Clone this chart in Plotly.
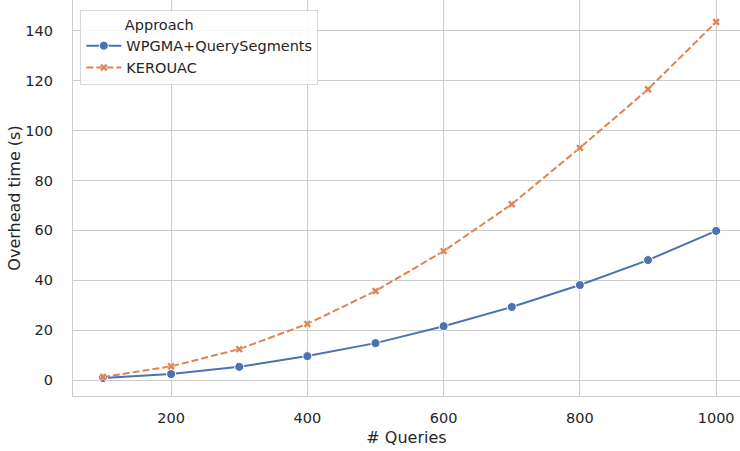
import plotly.graph_objects as go

queries = [100, 200, 300, 400, 500, 600, 700, 800, 900, 1000]
wpgma = [0.8, 2.4, 5.3, 9.6, 14.8, 21.6, 29.3, 38.1, 48.1, 59.8]
kerouac = [1.2, 5.5, 12.4, 22.5, 35.7, 51.7, 70.5, 93.1, 116.6, 143.6]
series_names = ["WPGMA+QuerySegments", "KEROUAC"]
legend_title = "Approach"
x_ticks = [200, 400, 600, 800, 1000]
y_ticks = [0, 20, 40, 60, 80, 100, 120, 140]

FONT = "DejaVu Sans"
TXT = "#262626"
GRID = "#cccccc"

fig = go.Figure()
fig.add_trace(go.Scatter(
    x=queries, y=wpgma, name=series_names[0], mode="lines+markers",
    line=dict(color="#4c72b0", width=2),
    marker=dict(symbol="circle", size=9, color="#4c72b0", line=dict(color="white", width=1)),
))
fig.add_trace(go.Scatter(
    x=queries, y=kerouac, name=series_names[1], mode="lines+markers",
    line=dict(color="#dd8452", width=2, dash="7px,3px"),
    marker=dict(symbol="x", size=7, color="#dd8452", line=dict(color="white", width=0.5)),
))

fig.update_layout(
    width=740, height=451,
    margin=dict(l=73, r=0, t=0, b=55, autoexpand=False),
    paper_bgcolor="white", plot_bgcolor="white",
    font=dict(family=FONT, size=14.5, color=TXT),
    showlegend=True,
    legend=dict(
        title=dict(text="\u00a0" * 9 + legend_title, side="top",
                   font=dict(family=FONT, size=14.5, color=TXT)),
        x=0.011, y=0.975, xanchor="left", yanchor="top",
        bgcolor="rgba(255,255,255,0.85)", bordercolor="#d9d9d9", borderwidth=1,
        font=dict(family=FONT, size=14.5, color=TXT),
        tracegroupgap=0, itemwidth=35,
    ),
    xaxis=dict(
        range=[56, 1035], tickvals=x_ticks, ticktext=[str(v) for v in x_ticks],
        showgrid=True, gridcolor=GRID, gridwidth=1, zeroline=False,
        showline=True, linecolor=GRID, linewidth=1.2, mirror=False,
        ticks="", ticklabelstandoff=8, automargin=False,
        title=dict(text="# Queries", font=dict(family=FONT, size=16, color=TXT), standoff=7),
        tickfont=dict(family=FONT, size=14.5, color=TXT),
    ),
    yaxis=dict(
        range=[-6.4, 152.4], tickvals=y_ticks, ticktext=[str(v) for v in y_ticks],
        showgrid=True, gridcolor=GRID, gridwidth=1, zeroline=False,
        showline=True, linecolor=GRID, linewidth=1.2,
        ticks="", ticklabelstandoff=16, automargin=False,
        title=dict(text="Overhead time (s)", font=dict(family=FONT, size=16, color=TXT), standoff=0),
        tickfont=dict(family=FONT, size=14.5, color=TXT),
    ),
)

fig.write_html(
    "out.html",
    config={"displayModeBar": False},
    post_script="document.body.style.margin='0';document.body.style.padding='0';",
)
